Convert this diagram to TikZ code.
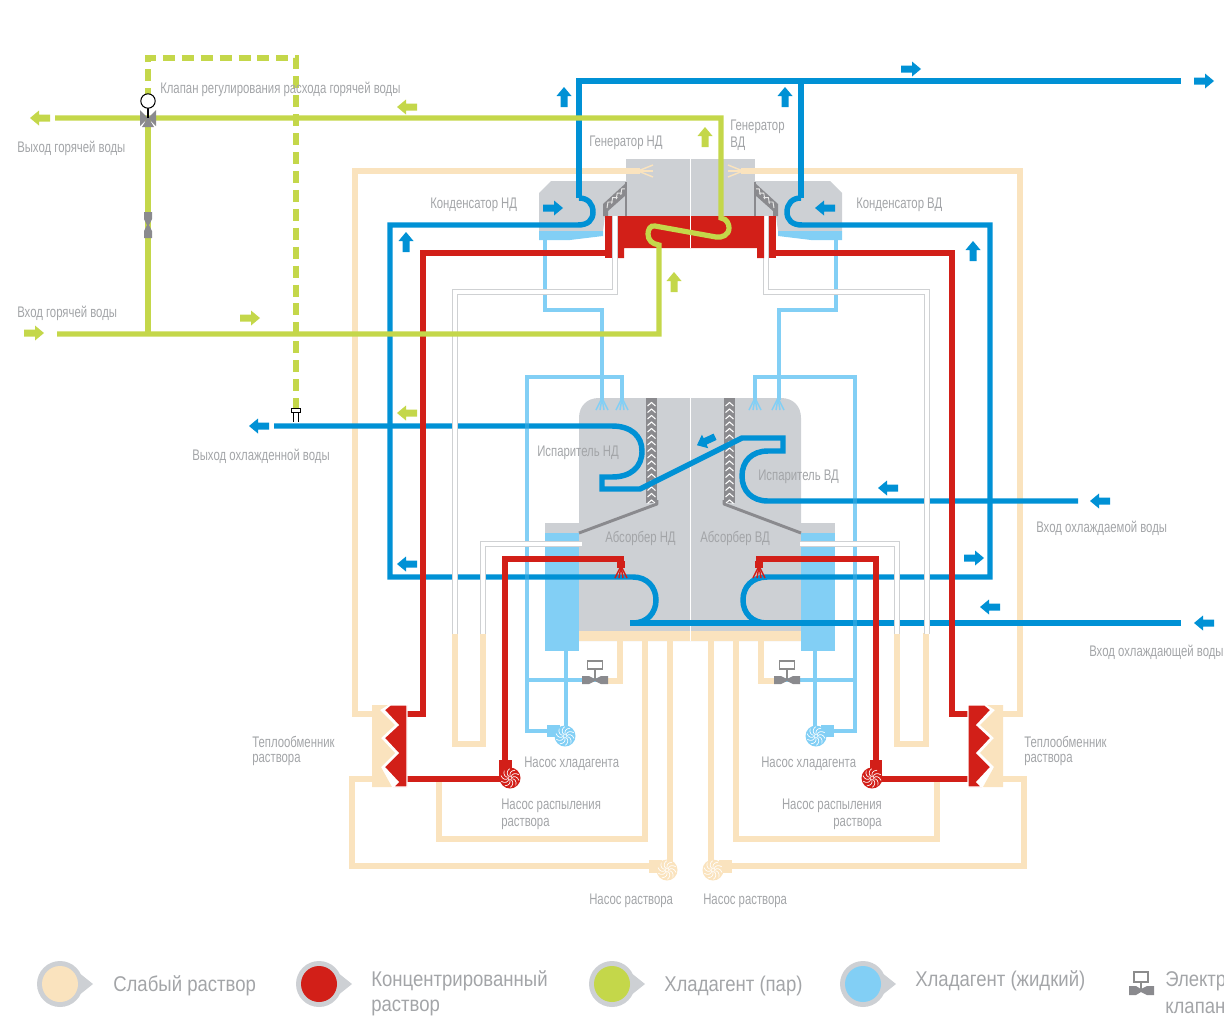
\documentclass[tikz,border=0pt]{standalone}
\usepackage{fontspec}
\setmainfont{Liberation Sans}
\newfontfamily\lblfont{Liberation Sans}[FakeStretch=0.74]
\newfontfamily\legfont{Liberation Sans}[FakeStretch=0.87]
\definecolor{cblue}{HTML}{0091D5}
\definecolor{clight}{HTML}{82CFF5}
\definecolor{cred}{HTML}{D21F18}
\definecolor{cgreen}{HTML}{C4D74A}
\definecolor{ccream}{HTML}{FAE3BE}
\definecolor{cbody}{HTML}{CDD0D4}
\definecolor{cdark}{HTML}{8A8A8E}
\definecolor{ctext}{HTML}{A3A5A8}
\definecolor{cedge}{HTML}{CFD1D3}
\tikzset{
  lbl/.style={font=\lblfont\fontsize{11.5}{13}\selectfont,text=ctext,inner sep=0pt,anchor=west,yshift=-0.8pt},
  leg/.style={font=\legfont\fontsize{16}{19}\selectfont,text=ctext,inner sep=0pt,anchor=west,yshift=-0.6pt},
  bluepipe/.style={draw=cblue,line width=4.1pt,line join=miter},
  redpipe/.style={draw=cred,line width=3.9pt},
  greenpipe/.style={draw=cgreen,line width=3.9pt},
  creampipe/.style={draw=ccream,line width=3.8pt},
  lightpipe/.style={draw=clight,line width=3.5pt},
  whitepipe/.style={draw=cedge,line width=4.1pt},
  whitecore/.style={draw=white,line width=2.6pt},
  dashpipe/.style={draw=cgreen,line width=3.9pt,dash pattern=on 9pt off 5.2pt},
  fan/.style={line width=1.1pt},
}
\newcommand\flowarrow[4]{\fill[#4,shift={(#1,#2)},rotate=#3]
  (-10,-3.5) -- (1,-3.5) -- (1,-7.5) -- (10,0) -- (1,7.5) -- (1,3.5) -- (-10,3.5) -- cycle;}
\newcommand\swirlpump[3]{\fill[#3] (#1,#2) circle (10.5);
  \foreach \a in {0,36,...,324}{
    \draw[white,line width=0.5pt,shift={(#1,#2)},rotate=\a] (1.2,0) .. controls (4,-2.5) and (7.5,-1.5) .. (9,2.5);}
}
\newcommand\elvalve[2]{
  \draw[black!45,line width=0.8pt] (#1,#2) -- (#1,#2-11);
  \draw[black!45,fill=white,line width=0.9pt] (#1-7.5,#2-19) rectangle (#1+7.5,#2-11);
  \fill[cdark] (#1-13,#2-4) -- (#1-6,#2-4) -- (#1,#2-1) -- (#1+6,#2-4) -- (#1+13,#2-4)
     -- (#1+13,#2+4) -- (#1+6,#2+4) -- (#1,#2+1) -- (#1-6,#2+4) -- (#1-13,#2+4) -- cycle;}
\newcommand\sprayfan[3]{\foreach \d in {-6,-2,2,6}{\draw[#3,fan] (#1,#2) -- (#1+\d,#2+12);}}
\newcommand\legmark[3]{\fill[cbody] (#1,#2) circle (23);
  \fill[cbody] (#1+18,#2-12) -- (#1+33,#2) -- (#1+18,#2+12) -- cycle;
  \fill[#3] (#1,#2) circle (18);}
\newcommand\chevstack[3]{\fill[cdark] (#1-5.5,#2) rectangle (#1+5.5,#3);
  \pgfmathsetmacro\nch{int((#3-#2)/6.5)}
  \foreach \i in {1,...,\nch}{\draw[white,line width=0.8pt] (#1-4,#2+\i*6.5+1.5) -- (#1,#2+\i*6.5-2) -- (#1+4,#2+\i*6.5+1.5);}}
\begin{document}
\begin{tikzpicture}[x=0.75pt,y=-0.75pt]
\useasboundingbox (0,0) rectangle (1224,1021);

% ---- bodies
\fill[cbody] (579,641) -- (579,418) .. controls (579,406) and (587,398) .. (599,398) -- (781,398) .. controls (793,398) and (801,406) .. (801,418) -- (801,641) -- cycle;
\fill[cbody] (545,523) rectangle (835,534);
\fill[clight] (545,533) rectangle (579,651);
\fill[clight] (801,533) rectangle (835,651);
\fill[ccream] (579,631) rectangle (801,641);
\fill[cbody] (626,159) rectangle (755,216);
\fill[cbody] (539,193) -- (551,181) -- (626,181) -- (626,216) -- (605,216) -- (603,231) -- (539,231) -- cycle;
\fill[cbody] (842,193) -- (830,181) -- (755,181) -- (755,216) -- (776,216) -- (778,231) -- (842,231) -- cycle;
\fill[clight] (539,231) -- (603,231) -- (603,236) -- (570,240) -- (539,240) -- cycle;
\fill[clight] (842,231) -- (778,231) -- (778,236) -- (811,240) -- (842,240) -- cycle;

% condenser baffles
\fill[cdark] (603,216) -- (603,204) -- (626,183) -- (626,195) -- (608,211) -- (608,216) -- cycle;
\fill[cdark] (778,216) -- (778,204) -- (755,183) -- (755,195) -- (773,211) -- (773,216) -- cycle;
\foreach \t in {0,1,2,3}{
  \draw[white!80!cdark,line width=0.7pt] (607+\t*4.6,208-\t*4.4) -- (608+\t*4.6,202-\t*4.4) -- (613+\t*4.6,202-\t*4.4);
  \draw[white!80!cdark,line width=0.7pt] (774-\t*4.6,208-\t*4.4) -- (773-\t*4.6,202-\t*4.4) -- (768-\t*4.6,202-\t*4.4);
}
\draw[cdark,line width=1pt] (626,182) -- (626,216);
\draw[cdark,line width=1pt] (755,182) -- (755,216);

% evaporator / absorber baffles
\chevstack{651.5}{398}{503}
\chevstack{729.5}{398}{503}
\draw[cdark,line width=2.2pt,line join=round] (657,500) -- (657,504) -- (579,533);
\draw[cdark,line width=2.2pt,line join=round] (724,500) -- (724,504) -- (801,533);
\draw[white,line width=1.4pt] (690.5,398) -- (690.5,641);

% ---- weak solution
\draw[creampipe] (372,714) -- (355,714) -- (355,171) -- (640,171);
\draw[creampipe] (1003,714) -- (1020,714) -- (1020,171) -- (741,171);
\draw[ccream,fan] (638,171) -- (653,165);
\draw[ccream,fan] (638,171) -- (653,171);
\draw[ccream,fan] (638,171) -- (653,177);
\draw[ccream,fan] (743,171) -- (728,165);
\draw[ccream,fan] (743,171) -- (728,171);
\draw[ccream,fan] (743,171) -- (728,177);
\draw[creampipe] (620,641) -- (620,681) -- (600,681);
\draw[creampipe] (761,641) -- (761,681) -- (780,681);
\draw[creampipe] (645,641) -- (645,839) -- (439,839) -- (439,779);
\draw[creampipe] (736,641) -- (736,839) -- (937,839) -- (937,779);
\draw[creampipe] (670,641) -- (670,866) -- (352,866) -- (352,779) -- (375,779);
\draw[creampipe] (711,641) -- (711,866) -- (1024,866) -- (1024,779) -- (1000,779);
\draw[creampipe] (455,633) -- (455,744) -- (483,744) -- (483,633);
\draw[creampipe] (926,633) -- (926,744) -- (897,744) -- (897,633);

\fill[ccream] (649,860) rectangle (662,873);
\fill[ccream] (719,860) rectangle (732,873);
\swirlpump{667}{870}{ccream}
\swirlpump{713}{870}{ccream}

% ---- liquid refrigerant
\draw[lightpipe] (545,240) -- (545,310) -- (602,310) -- (602,400);
\draw[lightpipe] (836,240) -- (836,310) -- (779,310) -- (779,400);
\draw[lightpipe] (622,400) -- (622,377) -- (527,377) -- (527,731) -- (556,731);
\draw[lightpipe] (755,400) -- (755,377) -- (855,377) -- (855,731) -- (825,731);
\draw[lightpipe] (527,680) -- (597,680);
\draw[lightpipe] (855,680) -- (785,680);
\draw[lightpipe] (566,651) -- (566,730);
\draw[lightpipe] (815,651) -- (815,730);
\sprayfan{602}{398}{clight}
\sprayfan{622}{398}{clight}
\sprayfan{755}{398}{clight}
\sprayfan{778}{398}{clight}
\fill[clight] (547,725) rectangle (560,737);
\fill[clight] (821,725) rectangle (834,737);
\swirlpump{565}{736}{clight}
\swirlpump{816}{736}{clight}
\elvalve{595}{680}
\elvalve{787}{680}

% ---- chilled / cooling water
\draw[bluepipe] (579,198) -- (579,81) -- (1181,81);
\draw[bluepipe] (801,198) -- (801,81);
\draw[bluepipe] (579,198) .. controls (588,198) and (593,204) .. (593,212)
   .. controls (593,220) and (588,225) .. (578,225) -- (390,225) -- (390,577) -- (633,577)
   .. controls (647,577) and (656,587) .. (656,600) .. controls (656,613) and (647,623) .. (633,623);
\draw[bluepipe] (801,198) .. controls (792,198) and (787,204) .. (787,212)
   .. controls (787,220) and (792,225) .. (802,225) -- (990,225) -- (990,577) -- (767,577)
   .. controls (752,577) and (743,587) .. (743,600) .. controls (743,613) and (752,623) .. (767,623);
\draw[bluepipe] (630,623) -- (1181,623);
\draw[bluepipe] (274,426) -- (612,426) .. controls (631,426) and (642,436) .. (642,451)
   .. controls (642,467) and (631,477) .. (612,477) -- (602,477) -- (602,489) -- (640,489)
   -- (742,438) -- (783,438) -- (783,451) -- (768,451)
   .. controls (752,451) and (742,461) .. (742,476) .. controls (742,491) and (752,501) .. (768,501) -- (1078,501);
% liquid refrigerant shows faintly across the water lines
\draw[lightpipe,opacity=0.3] (527,420) -- (527,432) (527,571) -- (527,583);
\draw[lightpipe,opacity=0.3] (855,495) -- (855,507) (855,571) -- (855,583) (855,617) -- (855,629);

% ---- white pipes
\draw[whitepipe] (615,216) -- (615,292) -- (455,292) -- (455,634);
\draw[whitecore] (615,216) -- (615,292) -- (455,292) -- (455,634);
\draw[whitepipe] (766,216) -- (766,292) -- (927,292) -- (927,634);
\draw[whitecore] (766,216) -- (766,292) -- (927,292) -- (927,634);
\draw[whitepipe] (582,544) -- (483,544) -- (483,634);
\draw[whitecore] (582,544) -- (483,544) -- (483,634);
\draw[whitepipe] (800,544) -- (897,544) -- (897,634);
\draw[whitecore] (800,544) -- (897,544) -- (897,634);

% ---- generator (concentrated solution)
\fill[cred] (605,216) rectangle (612,258);
\fill[cred] (618,216) -- (764,216) -- (764,216) -- (764,258) -- (757,258) -- (757,248) -- (624,248) -- (624,258) -- (618,258) -- cycle;
\fill[cred] (769,216) rectangle (776,258);
\draw[white,line width=0.9pt] (690.5,159) -- (690.5,248);
\draw[redpipe] (606,253) -- (423,253) -- (423,714) -- (405,714);
\draw[redpipe] (775,253) -- (952,253) -- (952,714) -- (970,714);
\draw[redpipe] (405,779) -- (505,779) -- (505,559) -- (621,559) -- (621,566);
\draw[redpipe] (970,779) -- (876,779) -- (876,559) -- (759,559) -- (759,566);
\fill[cred] (617,561) rectangle (625,568);
\fill[cred] (755,561) rectangle (763,568);
\sprayfan{621}{566}{cred}
\sprayfan{759}{566}{cred}
\fill[cred] (499,760) rectangle (512,778);
\fill[cred] (870,760) rectangle (882,778);
\swirlpump{510}{778}{cred}
\swirlpump{872}{778}{cred}

% ---- heat exchangers
\fill[ccream] (372,705) -- (388,705) -- (380,710) -- (395,725) -- (381,738) -- (395,753) -- (381,767) -- (392,787) -- (372,787) -- cycle;
\fill[cred,draw=white,line width=1.1pt] (390,705) -- (384,710) -- (398,725) -- (384,738) -- (398,753) -- (384,767) -- (398,782) -- (393,787) -- (407,787) -- (407,705) -- cycle;
\fill[ccream] (1003,705) -- (987,705) -- (995,710) -- (980,725) -- (994,738) -- (980,753) -- (994,767) -- (983,787) -- (1003,787) -- cycle;
\fill[cred,draw=white,line width=1.1pt] (985,705) -- (991,710) -- (977,725) -- (991,738) -- (977,753) -- (991,767) -- (977,782) -- (982,787) -- (968,787) -- (968,705) -- cycle;

% ---- hot water
\draw[greenpipe] (55,118) -- (721,118) -- (721,218)
  .. controls (727,219) and (729,224) .. (729,228) .. controls (729,235) and (722,238) .. (716,237)
  -- (655,226) .. controls (650,225) and (648,230) .. (648,234) .. controls (648,240) and (652,244) .. (659,245)
  -- (659,334) -- (57,334);
\draw[greenpipe] (148,118) -- (148,334);
\draw[dashpipe] (148,100) -- (148,58) -- (296,58) -- (296,408);
\fill[cdark] (140,110) -- (148,118) -- (140,126) -- cycle;
\fill[cdark] (156,110) -- (148,118) -- (156,126) -- cycle;
\fill[cdark] (142,127) -- (148,117) -- (154,127) -- cycle;
\draw[black,line width=0.8pt] (148,108) -- (148,118);
\draw[black,fill=white,line width=0.8pt] (148,101) circle (7.2);
\fill[cdark] (144,212) -- (152,212) -- (152,219) -- (149,225) -- (152,231) -- (152,238) -- (144,238) -- (144,231) -- (147,225) -- (144,219) -- cycle;
\draw[black,line width=0.7pt,fill=white] (291.5,408) rectangle (300.5,412);
\draw[black,line width=0.7pt] (293.5,412) -- (293.5,422) (298.5,412) -- (298.5,422);

% ---- flow arrows
\flowarrow{40}{118}{180}{cgreen}
\flowarrow{407}{107}{180}{cgreen}
\flowarrow{705}{137}{90}{cgreen}
\flowarrow{674}{282}{90}{cgreen}
\flowarrow{250}{318}{0}{cgreen}
\flowarrow{34}{333}{0}{cgreen}
\flowarrow{407}{413}{180}{cgreen}
\flowarrow{911}{69}{0}{cblue}
\flowarrow{1204}{81}{0}{cblue}
\flowarrow{564}{97}{90}{cblue}
\flowarrow{785}{97}{90}{cblue}
\flowarrow{553}{208}{0}{cblue}
\flowarrow{825}{208}{180}{cblue}
\flowarrow{406}{242}{90}{cblue}
\flowarrow{973}{251}{90}{cblue}
\flowarrow{259}{426}{180}{cblue}
\flowarrow{407}{564}{180}{cblue}
\flowarrow{974}{558}{0}{cblue}
\flowarrow{888}{488}{180}{cblue}
\flowarrow{1100}{501}{180}{cblue}
\flowarrow{990}{607}{180}{cblue}
\flowarrow{1204}{623}{180}{cblue}
\flowarrow{706}{441}{205}{cblue}

% ---- labels
\node[lbl] (t1) at (160,88) {Клапан регулирования расхода горячей воды};
\node[lbl] (t2) at (17,147) {Выход горячей воды};
\node[lbl] (t3) at (17,312) {Вход горячей воды};
\node[lbl] (t4) at (192,455) {Выход охлажденной воды};
\node[lbl] (t5) at (589,142) {Генератор НД};
\node[lbl] (t6) at (730,126) {Генератор};
\node[lbl] (t6b) at (730,143) {ВД};
\node[lbl] (t7) at (430,204) {Конденсатор НД};
\node[lbl] (t8) at (856,204) {Конденсатор ВД};
\node[lbl] (t9) at (537,452) {Испаритель НД};
\node[lbl] (t10) at (758,476) {Испаритель ВД};
\node[lbl] (t11) at (605,537) {Абсорбер НД};
\node[lbl] (t12) at (700,537) {Абсорбер ВД};
\node[lbl] (t13) at (1036,527) {Вход охлаждаемой воды};
\node[lbl] (t14) at (1089,651) {Вход охлаждающей воды};
\node[lbl] (t15) at (252,741) {Теплообменник};
\node[lbl] (t15b) at (252,759) {раствора};
\node[lbl] (t16) at (1024,741) {Теплообменник};
\node[lbl] (t16b) at (1024,759) {раствора};
\node[lbl] (t17) at (524,763) {Насос хладагента};
\node[lbl] (t18) at (761,763) {Насос хладагента};
\node[lbl] (t19) at (501,805) {Насос распыления};
\node[lbl] (t19b) at (501,823) {раствора};
\node[lbl,anchor=east] (t20) at (882,805) {Насос распыления};
\node[lbl,anchor=east] (t20b) at (882,823) {раствора};
\node[lbl] (t21) at (589,900) {Насос раствора};
\node[lbl] (t22) at (703,900) {Насос раствора};

% ---- legend
\legmark{60}{984}{ccream}
\legmark{319}{984}{cred}
\legmark{612}{984}{cgreen}
\legmark{863}{984}{clight}
\node[leg] (l1) at (113,985) {Слабый раствор};
\node[leg] (l2) at (371,980) {Концентрированный};
\node[leg] (l2b) at (371,1007) {раствор};
\node[leg] (l3) at (664,985) {Хладагент (пар)};
\node[leg] (l4) at (915,980) {Хладагент (жидкий)};
\node[leg] (l5) at (1165,980) {Электр};
\node[leg] (l5b) at (1165,1007) {клапан};
\draw[black!45,line width=1pt] (1141,982) -- (1141,990);
\draw[black!45,fill=white,line width=1pt] (1134,972) rectangle (1148,982);
\fill[cdark] (1129,986) -- (1136,986) -- (1141,989) -- (1147,986) -- (1154,986) -- (1154,995) -- (1147,995) -- (1141,992) -- (1136,995) -- (1129,995) -- cycle;
\end{tikzpicture}
\end{document}
